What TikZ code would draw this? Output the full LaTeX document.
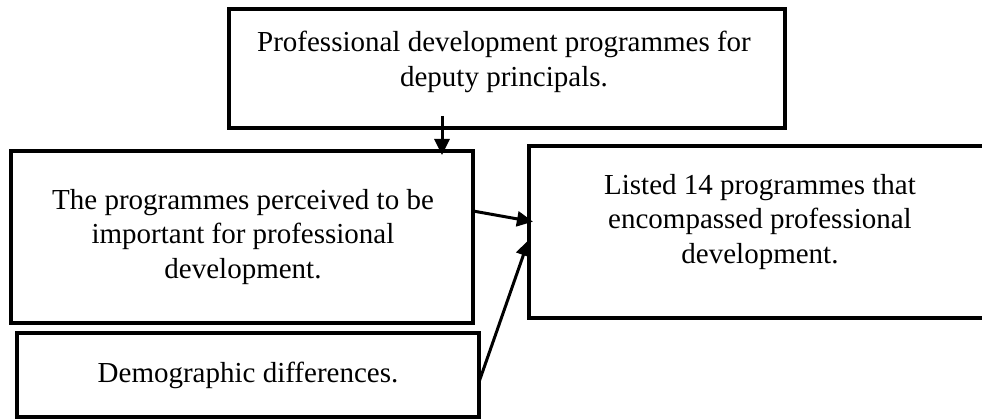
\documentclass[tikz,border=0pt]{standalone}
\usepackage{fontspec}
\setmainfont{Liberation Serif}
\usetikzlibrary{arrows.meta}
\begin{document}
\begin{tikzpicture}[x=1pt,y=-1pt,
  box/.style={draw=black,line width=3.4pt,inner sep=0pt,outer sep=0pt,rectangle},
  txt/.style={align=center,font=\fontsize{29}{34.5}\selectfont,inner sep=0pt},
  arr/.style={line width=3pt,-{Triangle[length=16pt,width=15pt]}}]
\useasboundingbox (0,0) rectangle (982,419);
\clip (0,0) rectangle (982,419);
\node[box,minimum width=556pt,minimum height=119pt] (top) at (507,68.5) {};
\node[box,minimum width=462pt,minimum height=172pt] (left) at (242,237) {};
\node[box,minimum width=462pt,minimum height=84pt] (demo) at (248,375) {};
\node[box,minimum width=461pt,minimum height=172pt] (right) at (759.5,232) {};
\node[txt] (ttop) at (504,62) {Professional development programmes for\\deputy principals.};
\node[txt] (tleft) at (243,237) {The programmes perceived to be\\important for professional\\development.};
\node[txt] (tright) at (760,222) {Listed 14 programmes that\\encompassed professional\\development.};
\node[txt] (tdemo) at (248,375) {Demographic differences.};
\coordinate (a1) at (442,116);
\coordinate (y211) at (0,211);
\coordinate (y221) at (0,221);
\coordinate (y382) at (0,382);
\coordinate (y239) at (0,239);
\draw[arr,shorten >=-4pt] (a1) -- (a1 |- left.north);
\draw[arr,shorten >=-4pt] (left.east |- y211) -- (right.west |- y221);
\draw[arr,shorten >=1pt] (demo.east |- y382) -- (right.west |- y239);
\end{tikzpicture}
\end{document}
